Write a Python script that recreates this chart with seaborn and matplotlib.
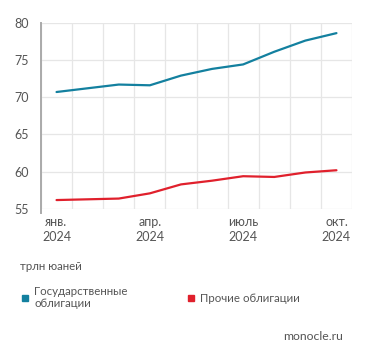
import numpy as np
import pandas as pd
import matplotlib.pyplot as plt
import seaborn as sns
from matplotlib.lines import Line2D

# monthly values, trln yuan
months = ['янв.', 'фев.', 'мар.', 'апр.', 'май', 'июнь', 'июль', 'авг.', 'сен.', 'окт.']
gov_bonds = [70.7, 71.2, 71.7, 71.6, 72.9, 73.8, 74.4, 76.1, 77.6, 78.6]
other_bonds = [56.2, 56.3, 56.4, 57.1, 58.3, 58.8, 59.4, 59.3, 59.9, 60.2]
tick_labels = ['янв.\n2024', 'апр.\n2024', 'июль\n2024', 'окт.\n2024']
series_names = ['Государственные\nоблигации', 'Прочие облигации']

blue = '#13809f'
red = '#e0202c'
text_gray = '#555555'
grid_gray = '#e6e6e6'

df = pd.DataFrame({
    'month': list(range(len(months))) * 2,
    'value': gov_bonds + other_bonds,
    'series': [series_names[0]] * len(months) + [series_names[1]] * len(months),
})

sns.set_theme(style='white')
plt.rcParams['font.family'] = ['Lato', 'DejaVu Sans']

fig = plt.figure(figsize=(3.71, 3.58), dpi=100)
ax = fig.add_axes([41 / 371, 1 - 209 / 358, 311 / 371, 186.3 / 358])

sns.lineplot(data=df, x='month', y='value', hue='series',
             palette=[blue, red], linewidth=1.6, ax=ax, legend=False)

ax.set_xlim(-0.5, 9.5)
ax.set_ylim(55, 80)
ax.set_yticks([55, 60, 65, 70, 75, 80])
ax.set_xticks([0, 3, 6, 9])
ax.set_xticklabels(tick_labels, linespacing=1.35)
ax.set_xticks(np.arange(-0.5, 10, 1), minor=True)
ax.grid(axis='y', which='major', color=grid_gray, linewidth=0.9)
ax.grid(axis='x', which='minor', color=grid_gray, linewidth=0.9)
ax.tick_params(axis='x', which='major', length=0, pad=5, labelsize=9, labelcolor=text_gray)
ax.tick_params(axis='x', which='minor', length=4, color=grid_gray, width=0.9)
ax.tick_params(axis='y', length=0, pad=9, labelsize=9, labelcolor=text_gray)
ax.set_xlabel('')
ax.set_ylabel('')
for s in ['top', 'right', 'bottom']:
    ax.spines[s].set_visible(False)
ax.spines['left'].set_color('#aaaaaa')
ax.spines['left'].set_linewidth(1.4)
ax.spines['left'].set_bounds(54.4, 80)
ax.set_axisbelow(True)

fig.text(20 / 371, 1 - 266 / 358, 'трлн юаней', fontsize=8.3, color=text_gray, va='center')

handles = [Line2D([], [], marker='s', linestyle='none', markersize=5, color=c) for c in [blue, red]]
fig.legend(handles, series_names, loc='upper left', bbox_to_anchor=(15 / 371, 1 - 281 / 358),
           ncol=2, frameon=False, fontsize=8.3, labelcolor=text_gray, handletextpad=0.25,
           columnspacing=5.0, handlelength=1.0, borderaxespad=0, alignment='left')

fig.text(343 / 371, 1 - 337 / 358, 'monocle.ru', fontsize=8.8, color=text_gray, ha='right', va='center')

fig.savefig('out.png', dpi=100)
